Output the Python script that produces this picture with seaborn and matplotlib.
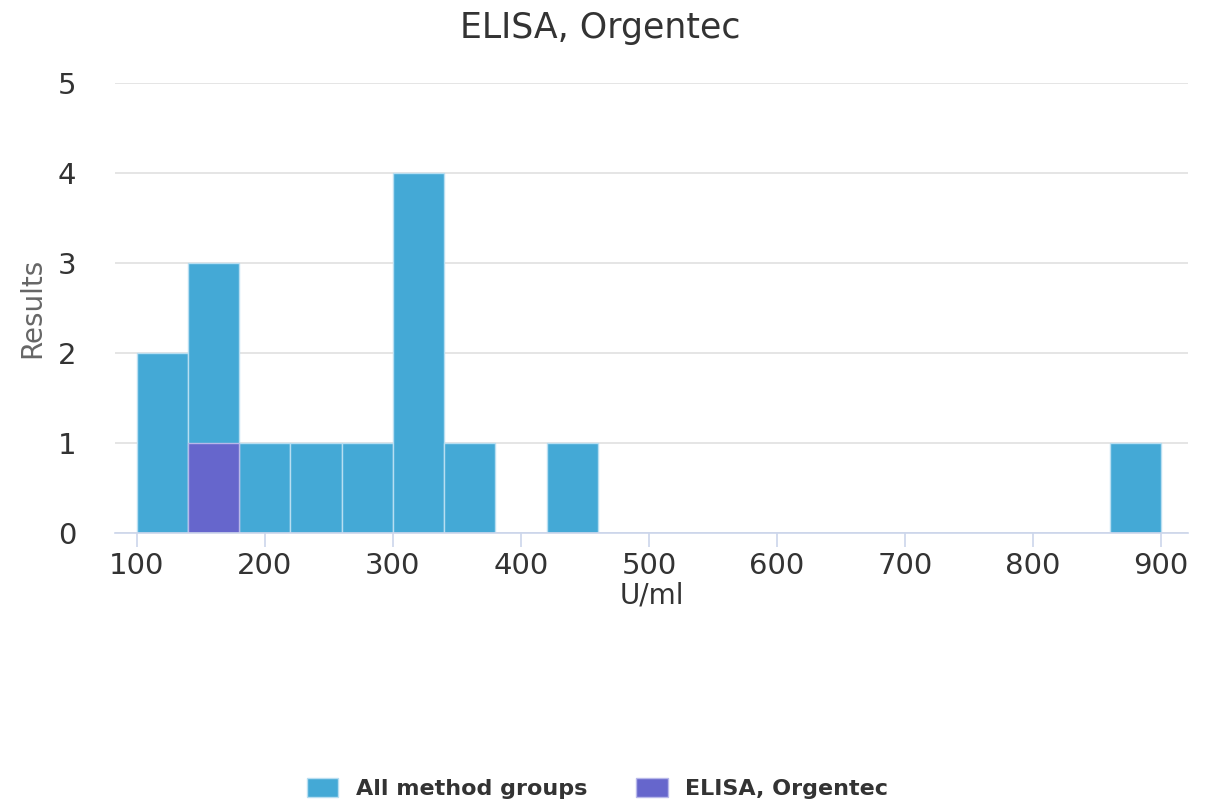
import numpy as np
import pandas as pd
import matplotlib
matplotlib.use("Agg")
import matplotlib.pyplot as plt
import seaborn as sns

# Data (bins of 40 U/ml)
bin_edges = [100, 140, 180, 220, 260, 300, 340, 380, 420, 460, 500, 540, 580, 620,
             660, 700, 740, 780, 820, 860, 900]
all_counts = [2, 3, 1, 1, 1, 4, 1, 0, 1, 0, 0, 0, 0, 0, 0, 0, 0, 0, 0, 1]
orgentec_counts = [0, 1, 0, 0, 0, 0, 0, 0, 0, 0, 0, 0, 0, 0, 0, 0, 0, 0, 0, 0]
x_ticks = [100, 200, 300, 400, 500, 600, 700, 800, 900]
y_ticks = [0, 1, 2, 3, 4, 5]

centers = [(a + b) / 2 for a, b in zip(bin_edges[:-1], bin_edges[1:])]
df_all = pd.DataFrame({"value": centers, "n": all_counts})
df_org = pd.DataFrame({"value": centers, "n": orgentec_counts})

sns.set_style("white")
plt.rcParams["font.family"] = ["DejaVu Sans"]

fig = plt.figure(figsize=(12.2, 8.11), dpi=100)
ax = fig.add_axes([0.0943, 0.3428, 0.8795, 0.5549])

sns.histplot(data=df_all, x="value", weights="n", bins=bin_edges, ax=ax,
             color="#44a9d6", alpha=1, edgecolor="#b8def1", linewidth=1,
             label="All method groups")
sns.histplot(data=df_org, x="value", weights="n", bins=bin_edges, ax=ax,
             color="#6666cc", alpha=1, edgecolor="#b8b8ea", linewidth=1,
             label="ELISA, Orgentec")

ax.set_xlim(83, 921)
ax.set_ylim(0, 5)
ax.set_xticks(x_ticks)
ax.set_yticks(y_ticks)
ax.set_axisbelow(True)
ax.yaxis.grid(True, color="#e0e0e0", linewidth=1.2)
ax.xaxis.grid(False)

for s in ["top", "right", "left"]:
    ax.spines[s].set_visible(False)
ax.spines["bottom"].set_color("#ccd6eb")
ax.spines["bottom"].set_linewidth(1.2)

ax.tick_params(axis="x", direction="out", length=10, width=1.2, color="#ccd6eb",
               labelsize=21, labelcolor="#333333", pad=4, bottom=True)
ax.tick_params(axis="y", length=0, labelsize=21, labelcolor="#333333", pad=28)

ax.set_xlabel("U/ml", fontsize=20, color="#333333", labelpad=1)
ax.set_ylabel("Results", fontsize=20, color="#666666", labelpad=8)
fig.text(0.492, 0.965, "ELISA, Orgentec", fontsize=25, color="#333333",
         ha="center", va="center")

handles, labels = ax.get_legend_handles_labels()
fig.legend(handles, labels, loc="lower center", bbox_to_anchor=(0.49, -0.01),
           ncol=2, frameon=False, prop={"weight": "bold", "size": 16},
           handlelength=1.4, handleheight=1.0, columnspacing=2.2,
           labelcolor="#333333")

fig.savefig("out.png", dpi=100)
